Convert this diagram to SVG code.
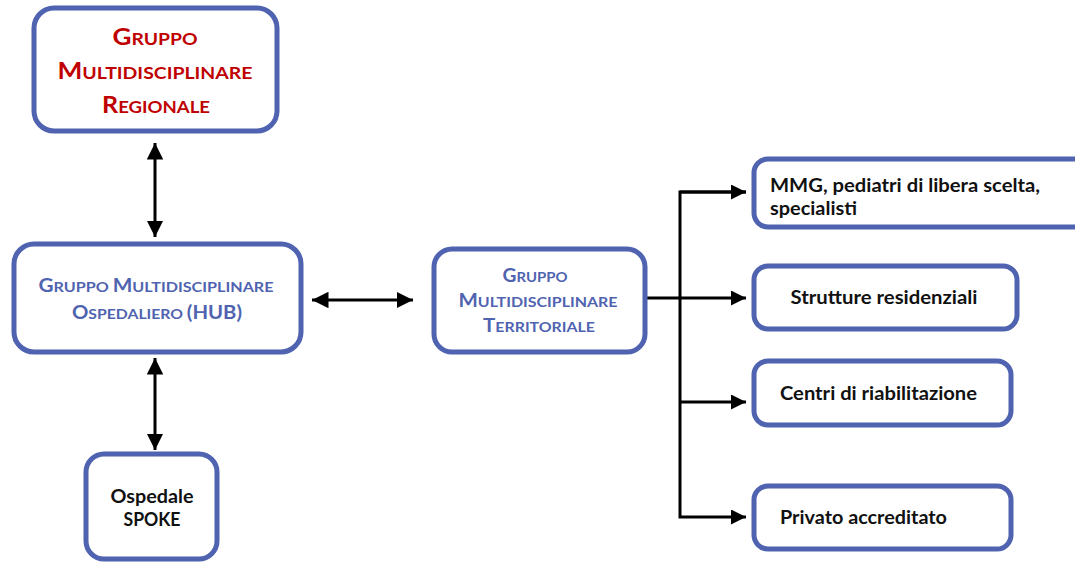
<svg xmlns="http://www.w3.org/2000/svg" width="1075" height="563" viewBox="0 0 1075 563">
<defs>
<style>
.box{fill:#fff;stroke:#4F63B0;stroke-width:5}
.t{font-family:Lato,"Open Sans","Liberation Sans",sans-serif;font-weight:bold}
.red{fill:#C00000;font-size:17px}
.blue{fill:#4F63B0;font-size:14px}
.blk{fill:#111;font-size:18px}
.big{font-size:23px}
.bigb{font-size:18px}
.ln{stroke:#000;stroke-width:3;fill:none}
</style>
<marker id="ah" viewBox="0 0 10 10" refX="10" refY="5" markerWidth="5.5" markerHeight="5.5" orient="auto-start-reverse" markerUnits="strokeWidth">
<path d="M0,0 L10,5 L0,10 z" fill="#000"/>
</marker>
<marker id="ah2" viewBox="0 0 10 10" refX="10" refY="5" markerWidth="5" markerHeight="5" orient="auto" markerUnits="strokeWidth">
<path d="M0,0 L10,5 L0,10 z" fill="#000"/>
</marker>
</defs>
<rect width="1075" height="563" fill="#fff"/>
<g id="connectors">
<line class="ln" x1="155" y1="143" x2="155" y2="237" marker-start="url(#ah)" marker-end="url(#ah)"/>
<line class="ln" x1="155" y1="358" x2="155" y2="450" marker-start="url(#ah)" marker-end="url(#ah)"/>
<line class="ln" x1="312" y1="300" x2="413" y2="300" marker-start="url(#ah)" marker-end="url(#ah)"/>
<line class="ln" x1="646" y1="298" x2="746" y2="298" marker-end="url(#ah2)"/>
<path class="ln" d="M746,192 H680 V517 H746" marker-start="url(#ah2)" marker-end="url(#ah2)" style="marker-start:none"/>
<line class="ln" x1="680" y1="192" x2="746" y2="192" marker-end="url(#ah2)"/>
<line class="ln" x1="680" y1="402" x2="746" y2="402" marker-end="url(#ah2)"/>
</g>
<g id="node-regionale">
<rect class="box" x="34" y="8" width="243" height="123" rx="20"/>
<text class="t red" x="155" y="45" text-anchor="middle" textLength="85" lengthAdjust="spacingAndGlyphs"><tspan class="big">G</tspan>RUPPO</text>
<text class="t red" x="155" y="79" text-anchor="middle" textLength="195" lengthAdjust="spacingAndGlyphs"><tspan class="big">M</tspan>ULTIDISCIPLINARE</text>
<text class="t red" x="156" y="113" text-anchor="middle" textLength="108" lengthAdjust="spacingAndGlyphs"><tspan class="big">R</tspan>EGIONALE</text>
</g>
<g id="node-hub">
<rect class="box" x="14" y="244" width="287" height="108" rx="20"/>
<text class="t blue" x="156" y="292" text-anchor="middle" textLength="235" lengthAdjust="spacingAndGlyphs"><tspan class="bigb">G</tspan>RUPPO <tspan class="bigb">M</tspan>ULTIDISCIPLINARE</text>
<text class="t blue" x="157" y="319" text-anchor="middle" textLength="170" lengthAdjust="spacingAndGlyphs"><tspan class="bigb">O</tspan>SPEDALIERO <tspan class="bigb">(HUB)</tspan></text>
</g>
<g id="node-territoriale">
<rect class="box" x="434" y="249" width="211" height="103" rx="18"/>
<text class="t blue" x="535" y="282" text-anchor="middle" textLength="65" lengthAdjust="spacingAndGlyphs"><tspan class="bigb">G</tspan>RUPPO</text>
<text class="t blue" x="538" y="307" text-anchor="middle" textLength="159" lengthAdjust="spacingAndGlyphs"><tspan class="bigb">M</tspan>ULTIDISCIPLINARE</text>
<text class="t blue" x="539" y="332" text-anchor="middle" textLength="112" lengthAdjust="spacingAndGlyphs"><tspan class="bigb">T</tspan>ERRITORIALE</text>
</g>
<g id="node-spoke">
<rect class="box" x="86" y="454" width="131" height="105" rx="18"/>
<text class="t blk" x="152" y="503" text-anchor="middle" textLength="83" lengthAdjust="spacingAndGlyphs">Ospedale</text>
<text class="t blk" x="152" y="526" text-anchor="middle" textLength="57" lengthAdjust="spacingAndGlyphs">SPOKE</text>
</g>
<g id="node-mmg">
<rect class="box" x="754" y="159" width="360" height="68" rx="14"/>
<text class="t blk" x="770" y="192" textLength="270" lengthAdjust="spacingAndGlyphs">MMG, pediatri di libera scelta,</text>
<text class="t blk" x="770" y="215" textLength="87" lengthAdjust="spacingAndGlyphs">specialisti</text>
</g>
<g id="node-strutture">
<rect class="box" x="754" y="266" width="263" height="63" rx="14"/>
<text class="t blk" x="884" y="304" text-anchor="middle" textLength="187" lengthAdjust="spacingAndGlyphs">Strutture residenziali</text>
</g>
<g id="node-centri">
<rect class="box" x="754" y="361" width="257" height="64" rx="14"/>
<text class="t blk" x="780" y="400" textLength="197" lengthAdjust="spacingAndGlyphs">Centri di riabilitazione</text>
</g>
<g id="node-privato">
<rect class="box" x="754" y="486" width="257" height="63" rx="14"/>
<text class="t blk" x="780" y="524" textLength="167" lengthAdjust="spacingAndGlyphs">Privato accreditato</text>
</g>
</svg>
